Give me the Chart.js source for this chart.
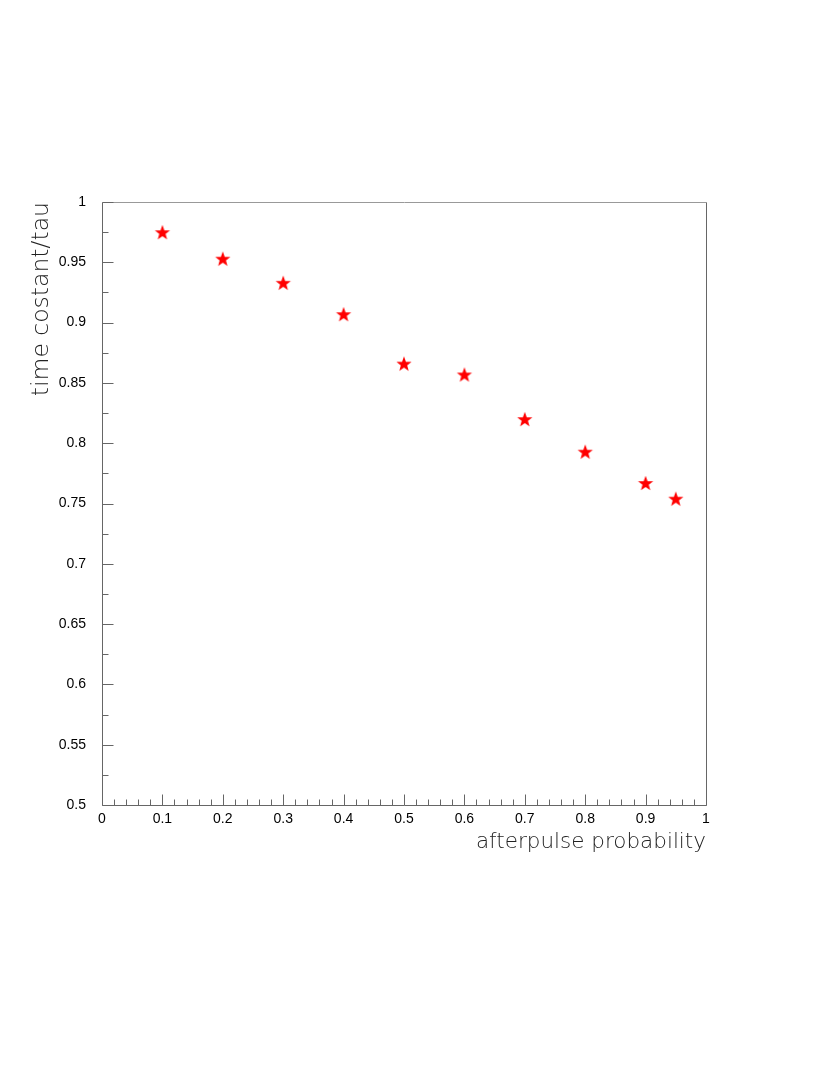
<!DOCTYPE html>
<html>
<head>
<meta charset="utf-8">
<script src="https://cdn.jsdelivr.net/npm/chart.js@4/dist/chart.umd.min.js"></script>
<style>
  html, body { margin: 0; padding: 0; background: #fff; }
  #wrap { width: 830px; height: 1075px; position: relative; }
</style>
</head>
<body>
<div id="wrap"><canvas id="c"></canvas></div>
<script>
// ---- data ----
const afterpulseProbability = [0.1, 0.2, 0.3, 0.4, 0.5, 0.6, 0.7, 0.8, 0.9, 0.95];
const timeConstantRatio = [0.975, 0.953, 0.933, 0.907, 0.866, 0.857, 0.820, 0.793, 0.767, 0.754];
const xTickValues = [0, 0.1, 0.2, 0.3, 0.4, 0.5, 0.6, 0.7, 0.8, 0.9, 1];
const xTickLabels = ['0', '0.1', '0.2', '0.3', '0.4', '0.5', '0.6', '0.7', '0.8', '0.9', '1'];
const yTickValues = [0.5, 0.55, 0.6, 0.65, 0.7, 0.75, 0.8, 0.85, 0.9, 0.95, 1];
const yTickLabels = ['0.5', '0.55', '0.6', '0.65', '0.7', '0.75', '0.8', '0.85', '0.9', '0.95', '1'];
const xTitle = 'afterpulse probability';
const yTitle = 'time costant/tau';

// ---- star marker ----
function makeStar(outer, inner, color) {
  const s = Math.ceil(outer * 2 + 2);
  const cv = document.createElement('canvas');
  cv.width = s; cv.height = s;
  const g = cv.getContext('2d');
  const cx = s / 2, cy = s / 2 + outer * 0.1;
  g.beginPath();
  for (let i = 0; i < 10; i++) {
    const r = i % 2 === 0 ? outer : inner;
    const a = -Math.PI / 2 + i * Math.PI / 5;
    const px = cx + r * Math.cos(a), py = cy + r * Math.sin(a);
    if (i === 0) g.moveTo(px, py); else g.lineTo(px, py);
  }
  g.closePath();
  g.fillStyle = color;
  g.fill();
  return cv;
}
const starImg = makeStar(8, 3.3, '#ff0000');

function labelFor(values, labels, v) {
  for (let i = 0; i < values.length; i++) {
    if (Math.abs(values[i] - v) < 1e-6) return labels[i];
  }
  return '';
}
function isMajor(values, v) {
  return values.some(t => Math.abs(t - v) < 1e-6);
}

const frameTicks = {
  id: 'frameTicks',
  afterDatasetsDraw(chart) {
    const ctx = chart.ctx;
    const a = chart.chartArea;
    const xs = chart.scales.x, ys = chart.scales.y;
    const L = Math.round(a.left) + 0.5, R = Math.round(a.right) + 0.5;
    const T = Math.round(a.top) + 0.5, B = Math.round(a.bottom) + 0.5;
    ctx.save();
    ctx.lineWidth = 1;
    ctx.strokeStyle = '#999999';
    ctx.beginPath(); ctx.moveTo(L, T); ctx.lineTo(R, T); ctx.stroke();
    ctx.strokeStyle = '#666666';
    ctx.beginPath();
    ctx.moveTo(R, T); ctx.lineTo(R, B);
    ctx.moveTo(L, T); ctx.lineTo(L, B); ctx.lineTo(R, B);
    ctx.stroke();
    ctx.beginPath();
    xs.ticks.forEach(t => {
      const px = Math.round(xs.getPixelForValue(t.value)) + 0.5;
      const len = isMajor(xTickValues, t.value) ? 11 : 6;
      ctx.moveTo(px, B); ctx.lineTo(px, B - len);
    });
    ys.ticks.forEach(t => {
      const py = Math.round(ys.getPixelForValue(t.value)) + 0.5;
      const len = isMajor(yTickValues, t.value) ? 11 : 6;
      ctx.moveTo(L, py); ctx.lineTo(L + len, py);
    });
    ctx.stroke();
    ctx.restore();
  }
};

const tickFont = { family: "'Liberation Sans', Arial, sans-serif", size: 14 };
const xTitleFont = { family: "'DejaVu Sans', sans-serif", size: 21.5, weight: 200 };
const yTitleFont = { family: "'DejaVu Sans', sans-serif", size: 23.5, weight: 200 };

new Chart(document.getElementById('c'), {
  type: 'scatter',
  data: {
    datasets: [{
      data: afterpulseProbability.map((x, i) => ({ x: x, y: timeConstantRatio[i] })),
      pointStyle: starImg,
      pointRadius: 8,
      pointHoverRadius: 8,
      backgroundColor: '#ff0000',
      borderColor: '#ff0000'
    }]
  },
  options: {
    responsive: true,
    maintainAspectRatio: false,
    animation: false,
    events: [],
    layout: { padding: { left: 28, top: 202, right: 124, bottom: 220 } },
    plugins: { legend: { display: false }, tooltip: { enabled: false } },
    scales: {
      x: {
        type: 'linear', min: 0, max: 1,
        grid: { display: false, drawTicks: false },
        border: { display: false },
        ticks: {
          stepSize: 0.02, autoSkip: false, maxRotation: 0, padding: 6,
          color: '#000', font: tickFont,
          callback: v => labelFor(xTickValues, xTickLabels, v)
        },
        title: { display: true, text: xTitle, align: 'end', color: '#222', font: xTitleFont, padding: 0 },
        afterFit: s => { s.height = 50; }
      },
      y: {
        type: 'linear', min: 0.5, max: 1,
        grid: { display: false, drawTicks: false },
        border: { display: false },
        ticks: {
          stepSize: 0.025, autoSkip: false, padding: 16,
          color: '#000', font: tickFont,
          callback: v => labelFor(yTickValues, yTickLabels, v)
        },
        title: { display: true, text: yTitle, align: 'end', color: '#222', font: yTitleFont, padding: 0 },
        afterFit: s => { s.width = 74; }
      }
    }
  },
  plugins: [frameTicks]
});
</script>
</body>
</html>
